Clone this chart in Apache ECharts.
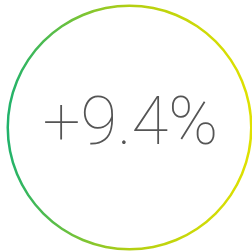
<!DOCTYPE html>
<html>
<head>
<meta charset="utf-8">
<script src="https://cdn.jsdelivr.net/npm/echarts@6/dist/echarts.min.js"></script>
<style>
  html, body { margin: 0; padding: 0; background: #fff; }
  #main { width: 252px; height: 251px; }
</style>
</head>
<body>
<div id="main"></div>
<script>
// valeur affichée au centre de l'anneau
var labels = ['+9.4%'];
var values = [100];

var myChart = echarts.init(document.getElementById('main'));

var option = {
	animation: false,
	series: [{
		type: 'pie',
		silent: true,
		center: [129.5, 127.5],
		radius: [120.5, 123],
		startAngle: 90,
		data: [{ name: labels[0], value: values[0] }],
		itemStyle: {
			color: new echarts.graphic.LinearGradient(0, 0, 1, 0, [
				{ offset: 0, color: '#20b26c' },
				{ offset: 0.5, color: '#b3cf12' },
				{ offset: 1, color: '#dfe100' }
			])
		},
		label: {
			show: true,
			position: 'center',
			formatter: '{b}',
			fontFamily: 'Roboto',
			fontWeight: 100,
			fontSize: 67,
			color: '#555555',
			offset: [1, 0]
		},
		labelLine: { show: false },
		emphasis: { disabled: true }
	}]
};

myChart.setOption(option);
</script>
</body>
</html>
